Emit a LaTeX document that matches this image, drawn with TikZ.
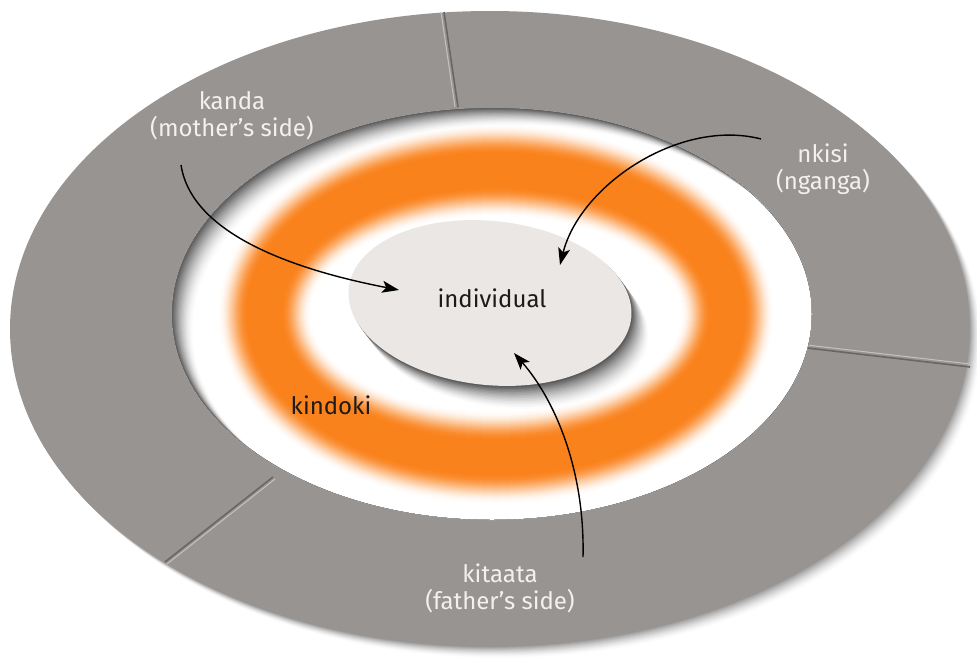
\documentclass[tikz,border=0pt]{standalone}
\usepackage{fontspec}
\setmainfont{Fira Sans}
\usetikzlibrary{arrows.meta}
\definecolor{ringgray}{RGB}{151,148,145}
\definecolor{grooveDark}{RGB}{105,103,101}
\definecolor{grooveLight}{RGB}{196,194,192}
\definecolor{coreorange}{RGB}{250,130,28}
\definecolor{centerfill}{RGB}{234,231,228}
\definecolor{labelwhite}{RGB}{243,241,239}
\definecolor{inktext}{RGB}{28,26,26}
\tikzset{
  ringlabel/.style={text=labelwhite, align=center, font=\fontsize{24}{27}\selectfont},
  darklabel/.style={text=inktext, font=\fontsize{24}{27}\selectfont},
  curvedarrow/.style={draw=black, line width=1.4pt, -{Stealth[length=17pt, width=12pt, inset=4pt]}},
  groove/.style={draw=grooveDark, line width=1.6pt},
  groovelight/.style={draw=grooveLight, line width=1pt}
}
\begin{document}
\begin{tikzpicture}[x=1pt,y=-1pt]
\useasboundingbox (0,0) rectangle (977,662);
\fill[white] (0,0) rectangle (977,662);
% outer drop shadow (opaque layers, light to dark)
\foreach \k in {12,11,...,1}{
  \pgfmathsetmacro\pct{36*((13-\k)/12)^1.6}
  \fill[black!\pct!white] ({490+\k*0.9},{329+\k*0.9}) ellipse [x radius=480pt, y radius=318pt];
}
% outer ring
\fill[ringgray] (490,329) ellipse [x radius=480pt, y radius=318pt];
% grooves between sectors
\draw[groovelight] (455,107) -- (441,12);
\draw[groove] (458,107) -- (444,12);
\draw[groovelight] (807,345) -- (970,364);
\draw[groove] (807,348) -- (970,367);
\draw[groovelight] (275,479) -- (167,564);
\draw[groove] (273,477) -- (165,562);
% hole
\fill[white] (492,314) ellipse [x radius=320pt, y radius=206pt];
% kindoki: soft orange ring
\foreach \d in {52,51,...,-52}{
  \pgfmathsetmacro\ad{abs(\d)}
  \pgfmathsetmacro\pct{(\ad<=16) ? 100 : ((\ad>=47) ? 0 : (50+50*cos(180*(\ad-16)/31)))}
  \pgfmathsetmacro\rx{232+\d}
  \pgfmathsetmacro\ry{144+\d}
  \fill[coreorange!\pct!white] (496,314) ellipse [x radius=\rx pt, y radius=\ry pt];
}
% inner shadow along the upper-left edge of the hole
\begin{scope}
  \clip (492,314) ellipse [x radius=320pt, y radius=206pt];
  \foreach \k in {18,17,...,1}{
    \pgfmathsetmacro\pct{62*((19-\k)/18)^1.6}
    \fill[black!\pct!white, even odd rule] (492,314) ellipse [x radius=320pt, y radius=206pt]
      ({492+\k*1.15},{314+\k*0.95}) ellipse [x radius=320pt, y radius=206pt];
  }
\end{scope}
% centre ellipse shadow
\foreach \k in {15,14,...,1}{
  \pgfmathsetmacro\pct{64*((16-\k)/15)^1.6}
  \fill[black!\pct!white, rotate around={-6:(490,303)}] ({490+\k*1.3},{303+\k*1.4}) ellipse [x radius=142pt, y radius=82pt];
}
\fill[centerfill, rotate around={-6:(490,303)}] (490,303) ellipse [x radius=142pt, y radius=82pt];
% labels
\node[darklabel] (individual) at (492,298) {individual};
\node[darklabel] (kindoki) at (331,405) {kindoki};
\node[ringlabel] (kanda) at (232,116) {kanda\\(mother’s side)};
\node[ringlabel] (nkisi) at (823,169) {nkisi\\(nganga)};
\node[ringlabel] (kitaata) at (500,588) {kitaata\\(father’s side)};
% arrow ends
\coordinate (kandaStart) at (181,165);
\coordinate (kandaTip) at (399,290);
\coordinate (nkisiStart) at (761,139);
\coordinate (nkisiTip) at (560,265);
\coordinate (kitaataStart) at (583,557);
\coordinate (kitaataTip) at (514,353);
\draw[curvedarrow] (kandaStart) .. controls (190,225) and (270,265) .. (kandaTip);
\draw[curvedarrow] (nkisiStart) .. controls (680,118) and (580,185) .. (nkisiTip);
\draw[curvedarrow] (kitaataStart) .. controls (585,470) and (555,400) .. (kitaataTip);
\end{tikzpicture}
\end{document}
